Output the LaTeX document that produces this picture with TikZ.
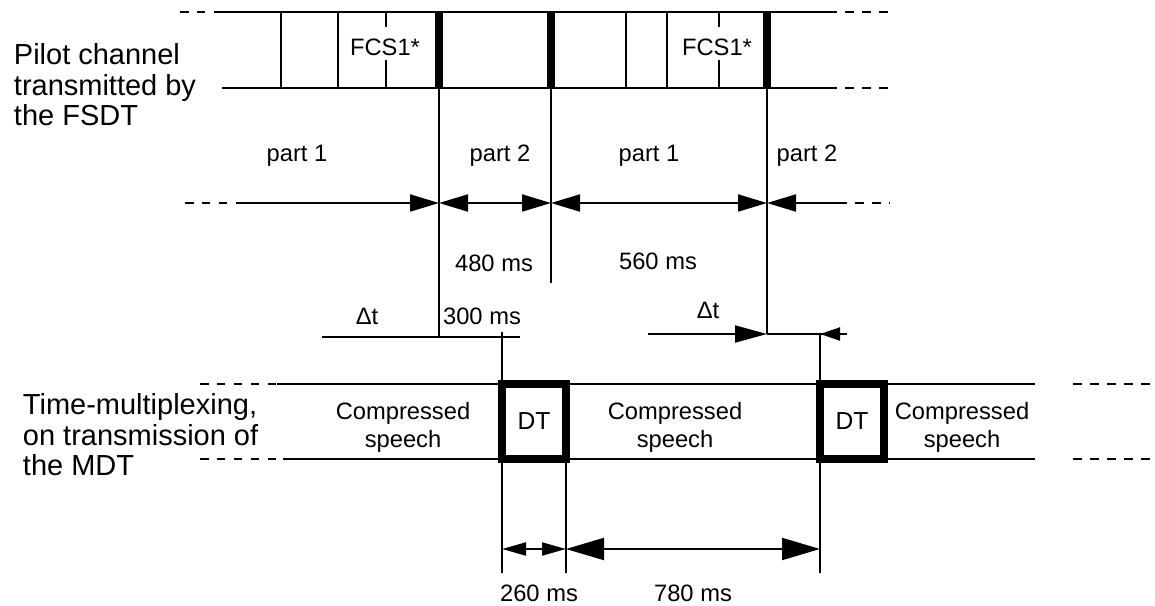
\documentclass[tikz,border=0pt]{standalone}
\usepackage{fontspec}
\setmainfont{Liberation Sans}
\usetikzlibrary{arrows.meta}

\begin{document}
\begin{tikzpicture}[x=0.02cm, y=-0.02cm, line width=1.1pt,
    >={Triangle[length=0.58cm, width=0.34cm]},
    txt/.style={font=\fontsize{13.5}{16}\selectfont, inner sep=1pt, align=center},
    side/.style={font=\fontsize{16.5}{17.2}\selectfont, inner sep=0pt, align=left, anchor=north west},
    dots/.style={dash pattern=on 0.17cm off 0.17cm},
    bar/.style={line width=4.5pt},
    dtbox/.style={draw, line width=4.5pt, outer sep=0pt, minimum width=1.28cm, minimum height=1.5cm,
      font=\fontsize{14}{16}\selectfont}]
  \useasboundingbox (0,0) rectangle (1155,605);
  % pilot channel
  \node[side] (pilot) at (13,43) {Pilot channel\\transmitted by\\the FSDT};
  \draw[dots] (180,12) -- (222,12);
  \draw (222,12) -- (828,12);
  \draw[dots] (828,12) -- (890,12);
  \draw (222,88) -- (828,88);
  \draw[dots] (828,88) -- (890,88);
  \foreach \x in {281,338,626,667}
    \draw (\x,12) -- (\x,88);
  \foreach \x in {386,719}
    \draw (\x,12) -- (\x,27) (\x,60) -- (\x,88);
  \foreach \x in {439,551,767}
    \draw[bar] (\x,12) -- (\x,88);
  \node[txt] (fcs1) at (385,47) {FCS1*};
  \node[txt] (fcs2) at (717,47) {FCS1*};
  \draw (439,88) -- (439,337);
  \draw (551,88) -- (551,283);
  \draw (767,88) -- (767,334);
  % parts
  \draw[dots] (185,203) -- (237,203);
  \draw[->] (237,203) -- (439,203);
  \draw[<->] (439,203) -- (551,203);
  \draw[<->] (551,203) -- (767,203);
  \draw[->] (838,203) -- (767,203);
  \draw[dots] (838,203) -- (890,203);
  \node[txt] (p1a) at (297,156) {part 1};
  \node[txt] (p2a) at (500,156) {part 2};
  \node[txt] (p1b) at (649,156) {part 1};
  \node[txt] (p2b) at (807,156) {part 2};
  \node[txt] (t480) at (494,263) {480 ms};
  \node[txt] (t560) at (658,261) {560 ms};
  % time-multiplexing
  \node[side] (mdt) at (22,393) {Time-multiplexing,\\on transmission of\\the MDT};
  \draw[dots] (200,384) -- (277,384);
  \draw (277,384) -- (1035,384);
  \draw[dots] (1073,384) -- (1152,384);
  \draw[dots] (200,459) -- (277,459);
  \draw (283,459) -- (1035,459);
  \draw[dots] (1073,459) -- (1152,459);
  \node[dtbox] (dt1) at (534,421.5) {DT};
  \node[dtbox] (dt2) at (852,421.5) {DT};
  \node[txt] (cs1) at (403,427) {Compressed\\speech};
  \node[txt] (cs2) at (675,427) {Compressed\\speech};
  \node[txt] (cs3) at (962,427) {Compressed\\speech};
  % delta t
  \node[txt] (dta) at (367,316) {Δt};
  \node[txt] (t300) at (482,316) {300 ms};
  \draw (322,337) -- (520,337);
  \draw (502,332) -- (dt1.north west);
  \node[txt] (dtb) at (708,310) {Δt};
  \draw[-{Triangle[length=0.64cm, width=0.34cm]}] (648,334) -- (767,334);
  \draw (767,334) -- (847,334);
  \draw[-{Triangle[length=0.4cm, width=0.26cm]}] (847,334) -- (820,334);
  \draw (820,334) -- (dt2.north west);
  % durations
  \draw (dt1.south west) -- (502,573);
  \draw (dt1.south east) -- (566,573);
  \draw (dt2.south west) -- (820,573);
  \draw[{Triangle[length=0.48cm, width=0.26cm]}-{Triangle[length=0.48cm, width=0.26cm]}] (502,549) -- (566,549);
  \draw[{Triangle[length=0.76cm, width=0.44cm]}-{Triangle[length=0.76cm, width=0.44cm]}] (566,549) -- (820,549);
  \node[txt] (t260) at (539,593) {260 ms};
  \node[txt] (t780) at (693,593) {780 ms};
\end{tikzpicture}
\end{document}
